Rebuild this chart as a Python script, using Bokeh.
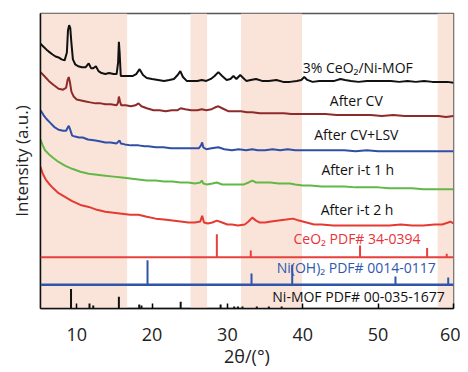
from bokeh.plotting import figure
from bokeh.models import Range1d, FixedTicker, Span, ColumnDataSource
from bokeh.core.properties import value
from bokeh.embed import file_html
from bokeh.resources import INLINE

# ---------------- data ----------------
x_ticks = [10, 20, 30, 40, 50, 60]

shade_left = [5.2, 25.1, 31.8, 57.9]
shade_right = [16.7, 27.3, 39.9, 60.0]

black_x = [5.2, 5.6, 6.0, 6.3, 6.8, 7.2, 7.6, 8.0, 8.4, 8.7, 8.85, 9.0, 9.15, 9.3, 9.5, 9.8, 10.2, 10.7, 11.2, 11.6, 11.9, 12.2, 12.55, 12.9, 13.3, 13.8, 14.3, 14.9, 15.3, 15.5, 15.6, 15.7, 15.85, 16.2, 16.8, 17.4, 17.9, 18.35, 18.8, 19.3, 20.0, 20.8, 21.6, 22.3, 22.9, 23.4, 23.75, 24.1, 24.6, 25.3, 26.0, 26.6, 27.2, 27.8, 28.3, 28.8, 29.3, 29.9, 30.4, 30.8, 31.2, 31.7, 32.1, 32.5, 33.1, 33.8, 34.6, 35.5, 36.5, 37.4, 38.3, 39.2, 39.8, 40.2, 40.6, 41.3, 42.2, 43.2, 44.2, 45.0, 45.6, 46.4, 47.4, 48.5, 49.6, 50.6, 51.7, 52.8, 53.9, 55.0, 56.1, 57.2, 58.3, 59.2, 60.0]
black_y = [271, 268, 265, 263, 260, 258, 257, 255, 254, 262, 285, 290, 287, 272, 255, 250, 248, 247, 247, 251, 246, 246, 248, 243, 241, 240, 241, 240, 240, 252, 273, 262, 238, 238, 238, 238, 240, 245, 239, 236, 235, 234, 233, 234, 235, 239, 243, 237, 233, 233, 233, 234, 233, 235, 238, 242, 238, 234, 235, 238, 235, 239, 236, 233, 234, 235, 233, 233, 234, 232, 232, 233, 234, 237, 234, 232, 233, 233, 233, 235, 234, 233, 232, 233, 233, 233, 233, 232, 233, 232, 233, 232, 232, 232, 231]

cv_x = [5.2, 5.7, 6.3, 6.9, 7.6, 8.2, 8.6, 8.8, 8.95, 9.1, 9.3, 9.6, 10.0, 10.6, 11.2, 11.8, 12.5, 13.2, 13.8, 14.5, 15.3, 15.5, 15.6, 15.75, 15.9, 16.5, 17.2, 17.8, 18.2, 18.6, 19.3, 20.2, 21.0, 21.8, 22.6, 23.4, 23.8, 24.4, 25.2, 26.0, 26.6, 27.2, 27.9, 28.4, 28.8, 29.3, 30.1, 31.0, 31.8, 32.6, 33.3, 34.3, 35.5, 36.5, 37.5, 38.5, 39.5, 40.5, 41.8, 43.0, 44.5, 46.0, 47.6, 49.0, 50.5, 52.0, 53.5, 55.0, 56.5, 58.0, 59.0, 60.0]
cv_y = [242, 238, 233, 229, 225, 224, 226, 234, 237, 232, 222, 217, 214, 213, 212, 211, 210, 210, 209, 209, 208, 211, 217, 212, 208, 208, 207, 208, 210, 207, 205, 203, 203, 202, 203, 203, 205, 204, 203, 203, 204, 203, 204, 206, 207, 205, 202, 202, 202, 201, 201, 200, 200, 200, 200, 199, 199, 199, 199, 199, 198, 198, 198, 198, 197, 198, 197, 197, 197, 197, 196, 197]

lsv_x = [5.2, 5.6, 6.0, 6.5, 7.0, 7.6, 8.2, 8.6, 8.8, 8.95, 9.1, 9.4, 9.8, 10.3, 10.8, 11.5, 12.5, 13.2, 13.8, 14.5, 15.3, 15.55, 15.7, 15.85, 16.4, 17.2, 18.2, 19.0, 19.5, 20.5, 21.5, 22.5, 23.5, 24.5, 25.3, 26.2, 26.5, 26.65, 26.8, 27.2, 27.9, 28.8, 29.6, 30.6, 31.5, 32.5, 33.3, 34.0, 35.0, 36.0, 37.0, 38.0, 39.0, 40.0, 41.0, 42.5, 44.0, 45.5, 47.0, 48.5, 50.0, 51.5, 53.0, 54.5, 56.0, 57.5, 59.0, 60.0]
lsv_y = [203, 198, 194, 190, 186, 183, 182, 182, 185, 187, 184, 177, 176, 175, 175, 173, 172, 171, 170, 170, 169, 171, 172, 169, 168, 167, 167, 166, 166, 165, 165, 164, 164, 164, 164, 164, 167, 170, 165, 163, 164, 165, 163, 162, 163, 162, 163, 162, 162, 163, 162, 163, 162, 162, 162, 162, 162, 162, 161, 162, 161, 161, 161, 161, 161, 161, 161, 161]

it1_x = [5.2, 5.5, 5.8, 6.3, 6.9, 7.6, 8.5, 9.4, 10.5, 11.6, 12.7, 13.8, 14.9, 16.0, 17.1, 18.2, 19.3, 20.5, 21.6, 22.7, 23.8, 24.8, 25.7, 26.4, 26.6, 26.8, 27.3, 28.0, 28.6, 29.3, 30.0, 30.6, 31.4, 32.2, 32.8, 33.3, 33.8, 34.6, 35.7, 36.8, 37.6, 38.3, 39.0, 40.0, 41.0, 42.5, 44.0, 45.5, 47.0, 48.5, 50.0, 51.5, 53.0, 54.5, 56.0, 57.5, 59.0, 60.0]
it1_y = [173, 167, 162, 158, 154, 150, 146, 143, 140, 138, 137, 136, 135, 134, 133, 132, 131, 131, 130, 130, 129, 129, 128, 129, 131, 128, 127, 128, 129, 127, 127, 127, 127, 127, 129, 131, 129, 129, 129, 128, 128, 128, 127, 126, 126, 125, 125, 125, 124, 124, 124, 123, 123, 123, 122, 122, 122, 122]

it2_x = [5.2, 5.5, 5.9, 6.3, 6.9, 7.6, 8.5, 9.4, 10.5, 11.6, 12.7, 13.8, 14.9, 16.0, 17.1, 18.2, 19.3, 20.5, 21.6, 22.7, 23.8, 24.8, 25.7, 26.4, 26.65, 26.9, 27.4, 28.0, 28.6, 29.3, 30.0, 30.6, 31.4, 32.3, 32.8, 33.3, 33.8, 34.3, 35.0, 35.8, 36.8, 37.8, 38.7, 39.5, 40.5, 41.5, 42.5, 44.0, 45.5, 47.0, 48.5, 50.0, 51.5, 53.0, 54.5, 56.0, 57.5, 58.5, 59.3, 59.6, 60.0]
it2_y = [145, 138, 132, 128, 123, 118, 114, 110, 106, 104, 101, 99, 98, 97, 96, 96, 94, 92, 91, 90, 89, 88, 88, 89, 95, 88, 87, 88, 90, 88, 86, 86, 85, 86, 89, 93, 90, 88, 88, 89, 90, 91, 92, 90, 88, 86, 86, 85, 85, 85, 85, 85, 85, 86, 85, 85, 86, 86, 88, 89, 87]

ceo2_base = 52.5
ceo2_pos = [28.6, 33.1, 47.6, 56.5, 59.1]
ceo2_h = [23.5, 7.0, 12.0, 9.5, 3.5]

nioh_base = 24.3
nioh_pos = [19.4, 33.2, 38.6, 52.3, 59.3]
nioh_h = [25.0, 11.5, 20.5, 8.5, 7.5]

mof_pos = [9.25, 11.7, 12.2, 15.6, 18.3, 18.6, 23.8, 29.1, 30.9, 31.4, 32.0, 33.9, 35.5, 37.2]
mof_h = [20.0, 5.0, 3.0, 12.0, 4.0, 3.0, 7.0, 4.0, 2.0, 2.0, 2.0, 2.0, 2.0, 2.0]

label_text = ["3% CeO\u2082/Ni-MOF", "After CV", "After CV+LSV", "After i-t 1 h", "After i-t 2 h",
              "CeO\u2082 PDF# 34-0394", "Ni(OH)\u2082 PDF# 0014-0117", "Ni-MOF PDF# 00-035-1677"]
label_x = [47.3, 47.1, 47.1, 47.3, 47.2, 47.2, 47.1, 47.4]
label_y = [247, 213, 178, 142, 101, 72, 42, 12]
label_color = ["#111111", "#111111", "#111111", "#111111", "#111111", "#e8333a", "#2f58b0", "#111111"]

# ---------------- figure ----------------
FONT = "Open Sans"
p = figure(width=460, height=370, output_backend="svg", toolbar_location=None,
           x_range=Range1d(5.2, 60), y_range=Range1d(0, 302),
           min_border_left=40, min_border_right=7, min_border_top=13, min_border_bottom=55)
p.background_fill_color = "white"
p.border_fill_color = "white"
p.outline_line_color = "#555555"
p.outline_line_width = 1.5
p.grid.visible = False

# shaded regions
p.quad(left=shade_left, right=shade_right, bottom=0, top=302,
       fill_color="#fae4da", line_color=None)

# curves
p.line(black_x, black_y, line_color="#111111", line_width=2)
p.line(cv_x, cv_y, line_color="#8e2a2a", line_width=2)
p.line(lsv_x, lsv_y, line_color="#2f4fa6", line_width=2)
p.line(it1_x, it1_y, line_color="#62b846", line_width=2)
p.line(it2_x, it2_y, line_color="#e53a32", line_width=2)

# reference patterns
p.add_layout(Span(location=ceo2_base, dimension="width", line_color="#e8403c", line_width=2))
p.segment(x0=ceo2_pos, y0=[ceo2_base] * len(ceo2_pos), x1=ceo2_pos,
          y1=[ceo2_base + h for h in ceo2_h], line_color="#e8403c", line_width=2)
p.add_layout(Span(location=nioh_base, dimension="width", line_color="#2f55a8", line_width=2.5))
p.segment(x0=nioh_pos, y0=[nioh_base] * len(nioh_pos), x1=nioh_pos,
          y1=[nioh_base + h for h in nioh_h], line_color="#2f55a8", line_width=2)
p.segment(x0=mof_pos, y0=[0] * len(mof_pos), x1=mof_pos, y1=mof_h,
          line_color="#111111", line_width=2)

# labels
src = ColumnDataSource(dict(x=label_x, y=label_y, t=label_text, c=label_color))
p.text(x="x", y="y", text="t", text_color="c", source=src, text_align="center",
       text_baseline="middle", text_font=value(FONT), text_font_size="14px")

# axes
p.xaxis.ticker = FixedTicker(ticks=x_ticks)
p.xaxis.major_tick_in = 5
p.xaxis.major_tick_out = 0
p.xaxis.minor_tick_line_color = None
p.xaxis.major_tick_line_width = 1.5
p.xaxis.axis_line_width = 1.5
p.xaxis.axis_line_color = "#111111"
p.xaxis.major_label_text_font = FONT
p.xaxis.major_label_text_font_size = "18px"
p.xaxis.major_label_text_color = "#222222"
p.xaxis.major_label_standoff = 19
p.xaxis.axis_label = "2\u03b8/(\u00b0)"
p.xaxis.axis_label_text_font = FONT
p.xaxis.axis_label_text_font_size = "18px"
p.xaxis.axis_label_text_font_style = "normal"
p.xaxis.axis_label_text_color = "#222222"
p.xaxis.axis_label_standoff = 0

p.yaxis.ticker = FixedTicker(ticks=[])
p.yaxis.major_tick_line_color = None
p.yaxis.minor_tick_line_color = None
p.yaxis.major_label_text_font_size = "0px"
p.yaxis.axis_line_width = 1.5
p.yaxis.axis_line_color = "#111111"
p.yaxis.axis_label = "Intensity (a.u.)"
p.yaxis.axis_label_text_font = FONT
p.yaxis.axis_label_text_font_size = "17px"
p.yaxis.axis_label_text_font_style = "normal"
p.yaxis.axis_label_text_color = "#222222"
p.yaxis.axis_label_standoff = 8

open("out.html", "w").write(file_html(p, INLINE))
